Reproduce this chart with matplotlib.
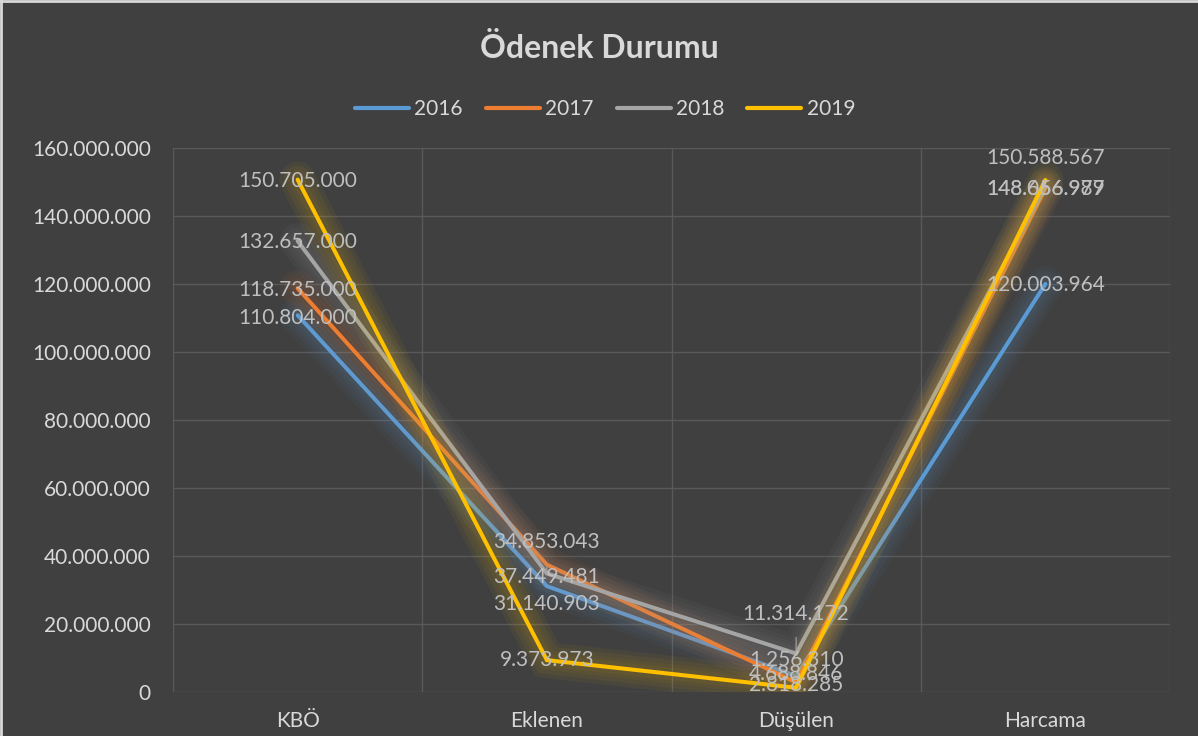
import numpy as np
import matplotlib
matplotlib.use('Agg')
from matplotlib import pyplot as plt
from matplotlib import patheffects as pe
from matplotlib.ticker import FuncFormatter, FixedLocator

categories = ['KBÖ', 'Eklenen', 'Düşülen', 'Harcama']
years = ['2016', '2017', '2018', '2019']
v2016 = [110804000, 31140903, 4688846, 120003964]
v2017 = [118735000, 37449481, 2818285, 148056987]
v2018 = [132657000, 34853043, 11314172, 148666979]
v2019 = [150705000, 9373973, 1256310, 150588567]
series = [v2016, v2017, v2018, v2019]

colors = ['#5B9BD5', '#ED7D31', '#A5A5A5', '#FFC000']
# label offsets in pixels (labels were moved by hand in the original)
label_dy = [[-3, -18, 2, -1],
            [-2, -12, -3, 0],
            [-1, 31, 40, -2],
            [-1, 0, 28, 22]]

bg = '#404040'
txt = '#D9D9D9'
lbl = '#BFBFBF'
grid = '#595959'
plt.rcParams['font.family'] = ['Lato', 'DejaVu Sans']

def fmt(v):
    return '{:,}'.format(int(v)).replace(',', '.')

fh = plt.figure(figsize=(11.98, 7.36), dpi=100, facecolor=bg)
ah = fh.add_axes([173/1198, 44/736, (1170-173)/1198, (692-148)/736])
ah.set_facecolor(bg)
x = np.arange(len(categories))

for i, vals in enumerate(series):
    glow = [pe.Stroke(linewidth=w, foreground=colors[i], alpha=0.05) for w in (26, 20, 14, 9)]
    ah.plot(x, vals, color=colors[i], lw=2.9, label=years[i], solid_capstyle='round',
            solid_joinstyle='miter', zorder=3 + i,
            path_effects=glow + [pe.Normal()])

for i, vals in enumerate(series):
    for j, v in enumerate(vals):
        dy = label_dy[i][j]
        arrow = None
        if abs(dy) > 30:
            arrow = dict(arrowstyle='-', color='#A6A6A6', lw=0.8, shrinkA=8, shrinkB=2)
        ah.annotate(fmt(v), (x[j], v), xytext=(0, dy), textcoords='offset pixels',
                    ha='center', va='center', fontsize=15, color=lbl, zorder=10,
                    arrowprops=arrow)

ah.set_xlim(-0.5, 3.5)
ah.set_ylim(0, 160000000)
ah.set_xticks(x)
ah.set_xticklabels(categories)
ah.xaxis.set_minor_locator(FixedLocator([-0.5, 0.5, 1.5, 2.5, 3.5]))
ah.set_yticks(np.arange(0, 160000001, 20000000))
ah.yaxis.set_major_formatter(FuncFormatter(lambda v, p: fmt(v)))
ah.grid(axis='y', which='major', color=grid, lw=1)
ah.grid(axis='x', which='minor', color=grid, lw=1)
ah.tick_params(axis='both', which='both', length=0, colors=txt, labelsize=15)
ah.tick_params(axis='x', pad=14)
ah.tick_params(axis='y', pad=16)
for s in ah.spines.values():
    s.set_visible(False)
ah.set_axisbelow(True)

fh.text(0.5, 1 - 48/736, 'Ödenek Durumu', ha='center', va='center',
        fontsize=23, fontweight='bold', color=txt)
leg = fh.legend(loc='center', bbox_to_anchor=(0.505, 1 - 109/736), ncol=4, frameon=False,
                fontsize=15, handlelength=2.6, handletextpad=0.25, columnspacing=1.1,
                labelcolor=txt)
for h in leg.get_lines():
    h.set_path_effects([])
    h.set_linewidth(3)

# light frame at left/top edge
fh.add_artist(plt.Line2D([0.001, 0.001], [0, 1], transform=fh.transFigure, color='#D9D9D9', lw=2))
fh.add_artist(plt.Line2D([0, 1], [0.999, 0.999], transform=fh.transFigure, color='#D9D9D9', lw=2))

plt.savefig('out.png', dpi=100, facecolor=bg)
